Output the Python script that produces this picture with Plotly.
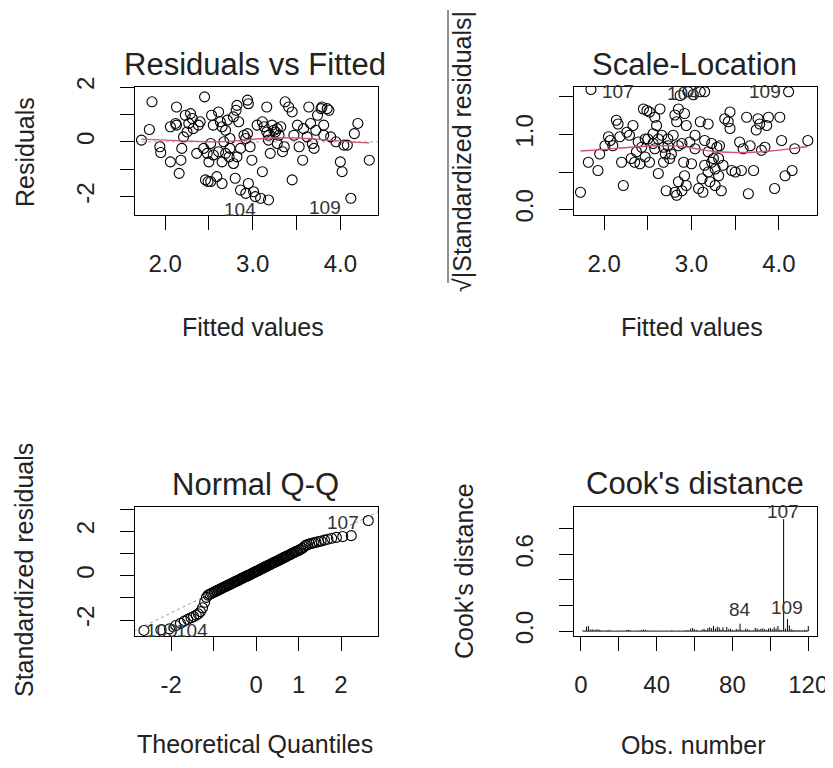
import plotly.graph_objects as go
import numpy as np

# ---------------- data ----------------
# Panel 1: Residuals vs Fitted
fitted_1 = [1.85, 1.82, 1.73, 1.94, 1.95, 2.06, 2.16, 2.18, 2.19, 2.21,
            2.13, 2.12, 2.13, 2.23, 2.29, 2.31, 2.32, 2.27, 2.40, 2.45,
            2.36, 2.44, 2.48, 2.50, 2.52, 2.46, 2.49, 2.52, 2.59, 2.65,
            2.53, 2.55, 2.61, 2.63, 2.65, 2.69, 2.71, 2.74, 2.73, 2.65,
            2.69, 2.78, 2.82, 2.81, 2.84, 2.82, 2.80, 2.86, 2.94, 2.95,
            2.90, 2.92, 2.94, 2.97, 2.95, 2.99, 3.01, 3.03, 3.09, 3.18,
            3.11, 3.05, 3.11, 3.13, 3.16, 3.16, 3.18, 3.20, 3.22, 3.24,
            3.26, 3.28, 3.30, 3.32, 3.28, 3.34, 3.36, 3.37, 3.41, 3.45,
            3.45, 3.47, 3.51, 3.53, 3.57, 3.58, 3.62, 3.64, 3.66, 3.68,
            3.70, 3.74, 3.78, 3.79, 3.81, 3.85, 3.87, 3.89, 3.95, 4.00,
            4.02, 4.04, 4.08, 4.12, 4.16, 4.20, 4.33, 3.81, 3.72, 2.74,
            2.78, 2.61, 2.55, 2.67, 2.86, 2.92, 2.38, 2.25, 2.06, 3.18]
resid_1 = [1.46, 0.45, 0.06, -0.18, -0.39, -0.73, -1.15, -0.67, -0.24, 0.18,
           1.27, 0.67, 0.61, 0.97, 1.03, 0.85, 0.48, 0.67, 0.73, 1.64,
           -0.42, -0.24, -0.42, -0.73, -0.06, -1.39, -1.45, -1.45, -1.27, -1.52,
           0.97, 0.61, 1.09, 0.73, 0.55, 0.42, 0.79, -0.24, -0.55, -0.73,
           -0.42, 0.91, 1.33, 1.15, 0.73, -0.55, -1.33, -1.76, 1.52, 1.39,
           0.24, 0.12, 0.30, -0.18, -1.52, -0.67, -1.82, -2.00, -2.06, -2.12,
           -1.09, 0.61, 0.73, 0.55, 1.27, 0.36, 0.06, -0.42, 0.61, 0.42,
           0.36, 0.48, 0.24, 0.55, -0.06, -0.36, -0.18, 1.46, 1.27, 1.09,
           -1.39, 0.24, 0.61, -0.18, -0.67, 0.48, 0.18, 1.27, 0.67, -0.06,
           -0.24, 0.97, 1.21, 1.27, 0.61, 1.21, 1.15, 0.18, 0.00, -0.73,
           -1.09, -0.12, -0.12, -2.06, 0.30, 0.67, -0.67, 0.24, 0.42, 0.12,
           -0.79, -0.36, -0.48, 0.00, -0.24, -1.88, 0.61, 0.36, 0.55, 0.24]
smooth_x_1 = [1.73, 2.00, 2.30, 2.60, 2.90, 3.20, 3.50, 3.80, 4.10, 4.33]
smooth_y_1 = [0.10, 0.06, 0.02, 0.00, 0.06, 0.14, 0.14, 0.08, 0.00, -0.04]
labels_1 = ["104", "109"]
label_x_1 = [2.86, 3.83]
label_y_1 = [-2.48, -2.40]

# Panel 2: Scale-Location
fitted_2 = [1.73, 1.85, 1.82, 1.93, 1.95, 2.05, 2.10, 2.14, 2.16, 2.18,
            2.20, 2.22, 2.26, 2.29, 2.31, 2.37, 2.39, 2.41, 2.45, 2.49,
            2.52, 2.50, 2.47, 2.52, 2.58, 2.60, 2.56, 2.58, 2.62, 2.64,
            2.66, 2.68, 2.70, 2.71, 2.73, 2.75, 2.79, 2.81, 2.83, 2.85,
            2.87, 3.10, 2.92, 2.94, 2.89, 2.91, 2.85, 2.81, 2.83, 2.89,
            2.92, 2.94, 2.98, 3.00, 3.04, 3.10, 3.12, 3.13, 3.15, 3.19,
            3.19, 3.19, 3.21, 3.23, 3.23, 3.25, 3.27, 3.27, 3.29, 3.31,
            3.32, 3.34, 3.38, 3.42, 3.44, 3.44, 3.46, 3.50, 3.55, 3.57,
            3.59, 3.63, 3.65, 3.67, 3.71, 3.74, 3.76, 3.78, 3.80, 3.84,
            3.86, 3.88, 3.95, 4.01, 4.03, 4.07, 4.11, 4.15, 4.18, 4.33,
            2.96, 3.02, 3.15, 2.35, 2.47, 2.62, 2.73, 2.77, 3.04, 2.68,
            2.43, 3.08, 2.85, 3.15, 3.31, 3.36, 2.01, 2.07, 2.33, 2.56]
sqrt_std_2 = [0.23, 1.60, 0.63, 0.52, 0.74, 0.97, 0.85, 1.19, 1.14, 0.97,
              0.63, 0.32, 1.03, 0.99, 0.68, 0.77, 0.90, 0.61, 1.34, 1.32,
              1.30, 0.94, 0.70, 0.63, 1.23, 1.12, 0.88, 0.81, 0.48, 1.34,
              0.99, 0.83, 0.74, 0.25, 0.85, 0.68, 0.99, 1.26, 1.17, 1.34,
              1.52, 1.57, 1.28, 1.12, 0.88, 0.63, 0.37, 0.23, 0.19, 0.25,
              0.45, 0.32, 0.90, 0.61, 0.81, 1.17, 0.41, 0.23, 0.92, 1.14,
              0.77, 0.50, 0.37, 0.88, 0.63, 0.68, 0.54, 0.32, 0.83, 0.45,
              0.85, 0.25, 1.21, 1.17, 1.30, 1.08, 0.52, 0.50, 0.90, 0.52,
              0.81, 1.23, 0.21, 0.85, 0.52, 1.06, 1.21, 1.14, 0.79, 0.83,
              1.12, 1.23, 0.28, 1.23, 0.92, 0.45, 1.57, 0.52, 0.81, 0.92,
              1.57, 1.53, 1.57, 0.63, 0.94, 0.94, 0.94, 0.74, 0.99, 0.63,
              0.83, 0.28, 0.85, 0.59, 0.68, 0.59, 0.85, 0.92, 1.12, 1.01]
smooth_x_2 = [1.73, 2.00, 2.30, 2.60, 2.90, 3.10, 3.30, 3.60, 3.90, 4.20, 4.33]
smooth_y_2 = [0.78, 0.80, 0.83, 0.85, 0.84, 0.80, 0.77, 0.76, 0.78, 0.82, 0.84]
labels_2 = ["107", "104", "109"]
label_x_2 = [2.16, 2.90, 3.84]
label_y_2 = [1.57, 1.55, 1.57]

# Panel 3: Normal Q-Q
theor_q = [-2.64, -2.24, -2.04, -1.89, -1.78, -1.69, -1.61, -1.53, -1.47, -1.41,
           -1.36, -1.31, -1.26, -1.21, -1.17, -1.13, -1.09, -1.05, -1.02, -0.98,
           -0.95, -0.92, -0.89, -0.86, -0.83, -0.80, -0.77, -0.74, -0.71, -0.69,
           -0.66, -0.64, -0.61, -0.59, -0.56, -0.54, -0.51, -0.49, -0.47, -0.44,
           -0.42, -0.40, -0.37, -0.35, -0.33, -0.31, -0.29, -0.26, -0.24, -0.22,
           -0.20, -0.18, -0.16, -0.14, -0.12, -0.09, -0.07, -0.05, -0.03, -0.01,
           0.01, 0.03, 0.05, 0.07, 0.09, 0.12, 0.14, 0.16, 0.18, 0.20,
           0.22, 0.24, 0.26, 0.29, 0.31, 0.33, 0.35, 0.37, 0.40, 0.42,
           0.44, 0.47, 0.49, 0.51, 0.54, 0.56, 0.59, 0.61, 0.64, 0.66,
           0.69, 0.71, 0.74, 0.77, 0.80, 0.83, 0.86, 0.89, 0.92, 0.95,
           0.98, 1.02, 1.05, 1.09, 1.13, 1.17, 1.21, 1.26, 1.31, 1.36,
           1.41, 1.47, 1.53, 1.61, 1.69, 1.78, 1.89, 2.04, 2.24, 2.64]
std_resid_q = [-2.47, -2.44, -2.40, -2.25, -2.15, -2.05, -1.97, -1.90, -1.84, -1.78,
               -1.72, -1.62, -1.45, -1.20, -0.98, -0.88, -0.84, -0.80, -0.77, -0.74,
               -0.70, -0.68, -0.65, -0.62, -0.59, -0.56, -0.53, -0.51, -0.48, -0.46,
               -0.43, -0.41, -0.39, -0.37, -0.34, -0.32, -0.29, -0.27, -0.25, -0.23,
               -0.21, -0.19, -0.16, -0.14, -0.12, -0.10, -0.08, -0.06, -0.04, -0.02,
               0.00, 0.01, 0.03, 0.05, 0.07, 0.10, 0.12, 0.14, 0.16, 0.18,
               0.19, 0.21, 0.23, 0.25, 0.27, 0.30, 0.32, 0.34, 0.36, 0.38,
               0.40, 0.42, 0.44, 0.46, 0.48, 0.50, 0.52, 0.54, 0.57, 0.59,
               0.61, 0.63, 0.65, 0.67, 0.70, 0.72, 0.75, 0.77, 0.80, 0.82,
               0.84, 0.87, 0.89, 0.92, 0.95, 0.98, 1.01, 1.04, 1.07, 1.10,
               1.12, 1.15, 1.19, 1.23, 1.30, 1.36, 1.40, 1.43, 1.45, 1.48,
               1.50, 1.53, 1.56, 1.60, 1.64, 1.68, 1.72, 1.76, 1.80, 2.48]
labels_3 = ["107", "109", "104"]
label_x_3 = [2.05, -2.22, -1.50]
label_y_3 = [2.40, -2.45, -2.45]

# Panel 4: Cook's distance
obs_number = list(range(1, 121))
cooks_d = [0.005, 0.003, 0.035, 0.040, 0.012, 0.015, 0.010, 0.012, 0.014, 0.010,
           0.004, 0.002, 0.003, 0.006, 0.010, 0.003, 0.002, 0.001, 0.002, 0.003,
           0.001, 0.002, 0.001, 0.009, 0.011, 0.008, 0.002, 0.001, 0.003, 0.002,
           0.004, 0.010, 0.012, 0.011, 0.004, 0.002, 0.001, 0.003, 0.002, 0.001,
           0.002, 0.001, 0.002, 0.001, 0.003, 0.002, 0.001, 0.008, 0.002, 0.001,
           0.002, 0.003, 0.001, 0.002, 0.004, 0.008, 0.006, 0.020, 0.025, 0.015,
           0.008, 0.003, 0.002, 0.012, 0.018, 0.010, 0.025, 0.030, 0.022, 0.040,
           0.020, 0.035, 0.028, 0.012, 0.030, 0.008, 0.033, 0.015, 0.020, 0.010,
           0.005, 0.018, 0.012, 0.058, 0.010, 0.004, 0.020, 0.015, 0.008, 0.004,
           0.006, 0.025, 0.020, 0.012, 0.018, 0.022, 0.015, 0.010, 0.020, 0.025,
           0.015, 0.030, 0.020, 0.040, 0.012, 0.010, 0.875, 0.020, 0.095, 0.045,
           0.015, 0.010, 0.006, 0.004, 0.008, 0.005, 0.003, 0.010, 0.008, 0.040]
labels_4 = ["107", "84", "109"]
label_x_4 = [106.5, 84.0, 108.6]
label_y_4 = [0.875, 0.168, 0.187]
label_shift_4 = [8, 0, 0]

titles = ["Residuals vs Fitted", "Scale-Location", "Normal Q-Q", "Cook's distance"]
x_titles = ["Fitted values", "Fitted values", "Theoretical Quantiles", "Obs. number"]
y_titles = ["Residuals", "√|Standardized residuals|", "Standardized residuals", "Cook's distance"]

# ---------------- layout helpers ----------------
# The page body has an 8px margin; map window pixels onto the figure.
OFF = 8
W, H = 833 - OFF, 768 - 2 * OFF
FONT = "Liberation Sans, Arial, sans-serif"
RED = "#D0566C"

def px(x):
    return (x - OFF) / W

def py(y):
    return 1 - (y - OFF) / H

boxes = {  # window-pixel boxes x0, x1, y0(top), y1(bottom)
    1: (135, 378, 87, 215),
    2: (574, 817, 87, 215),
    3: (135, 378, 507, 636),
    4: (574, 817, 507, 636),
}

fig = go.Figure()

marker = dict(symbol="circle-open", size=10, color="black", line=dict(width=1.1, color="black"))

# Panel 1
fig.add_trace(go.Scatter(x=[1.6, 4.5], y=[0, 0], mode="lines",
                         line=dict(color="#aaaaaa", width=1, dash="dot"),
                         xaxis="x", yaxis="y", hoverinfo="skip"))
fig.add_trace(go.Scatter(x=fitted_1, y=resid_1, mode="markers", marker=marker,
                         xaxis="x", yaxis="y"))
fig.add_trace(go.Scatter(x=smooth_x_1, y=smooth_y_1, mode="lines", line_shape="spline",
                         line=dict(color=RED, width=1.3), xaxis="x", yaxis="y"))

# Panel 2
fig.add_trace(go.Scatter(x=fitted_2, y=sqrt_std_2, mode="markers", marker=marker,
                         xaxis="x2", yaxis="y2"))
fig.add_trace(go.Scatter(x=smooth_x_2, y=smooth_y_2, mode="lines", line_shape="spline",
                         line=dict(color=RED, width=1.3), xaxis="x2", yaxis="y2"))

# Panel 3
sa = np.array(std_resid_q)
s25, s75 = np.percentile(sa, [25, 75])
q25, q75 = -0.6745, 0.6745
slope = (s75 - s25) / (q75 - q25)
icpt = s25 - slope * q25
qx = [-3.0, 3.0]
fig.add_trace(go.Scatter(x=qx, y=[icpt + slope * v for v in qx], mode="lines",
                         line=dict(color="#999999", width=1, dash="dot"),
                         xaxis="x3", yaxis="y3", hoverinfo="skip"))
fig.add_trace(go.Scatter(x=theor_q, y=std_resid_q, mode="markers", marker=marker,
                         xaxis="x3", yaxis="y3"))

# Panel 4: vertical lines (type = "h")
seg_x, seg_y = [], []
for o, c in zip(obs_number, cooks_d):
    seg_x += [o, o, None]
    seg_y += [0, c, None]
fig.add_trace(go.Scatter(x=seg_x, y=seg_y, mode="lines", line=dict(color="black", width=1),
                         xaxis="x4", yaxis="y4"))
fig.add_trace(go.Scatter(x=[obs_number[0], obs_number[-1]], y=[0, 0], mode="lines",
                         line=dict(color="#222222", width=1), xaxis="x4", yaxis="y4",
                         hoverinfo="skip"))

axis_common = dict(showline=True, linecolor="black", linewidth=1, mirror=True,
                   ticks="outside", ticklen=14, tickwidth=1, tickcolor="black",
                   showgrid=False, zeroline=False, automargin=False,
                   ticklabeloverflow="allow",
                   tickfont=dict(family=FONT, size=24, color="#222222"))

def xax(i, rng, tv, tt):
    x0, x1, y0, y1 = boxes[i]
    d = dict(axis_common)
    d.update(domain=[px(x0), px(x1)], range=rng, tickmode="array", tickvals=tv,
             ticktext=tt, anchor="y" if i == 1 else f"y{i}", ticklabelstandoff=13)
    return d

def yax(i, rng, tv, tt):
    x0, x1, y0, y1 = boxes[i]
    d = dict(axis_common)
    d.update(domain=[py(y1), py(y0)], range=rng, tickmode="array", tickvals=tv,
             ticktext=tt, anchor="x" if i == 1 else f"x{i}", tickangle=-90,
             ticklabelstandoff=16)
    return d

layout = dict(
    width=W, height=H, autosize=False, showlegend=False,
    margin=dict(l=0, r=0, t=0, b=0),
    paper_bgcolor="white", plot_bgcolor="white",
    font=dict(family=FONT, color="#222222"),
    xaxis=xax(1, [1.656, 4.43], [2.0, 2.5, 3.0, 3.5, 4.0], ["2.0", "", "3.0", "", "4.0"]),
    yaxis=yax(1, [-2.67, 2.0], [-2, -1, 0, 1, 2], ["-2", "", "0", "", "2"]),
    xaxis2=xax(2, [1.656, 4.435], [2.0, 2.5, 3.0, 3.5, 4.0], ["2.0", "", "3.0", "", "4.0"]),
    yaxis2=yax(2, [-0.073, 1.633], [0.0, 0.5, 1.0, 1.5], ["0.0", "", "1.0", ""]),
    xaxis3=xax(3, [-2.85, 2.87], [-2, -1, 0, 1, 2], ["-2", "", "0", "1", "2"]),
    yaxis3=yax(3, [-2.72, 3.09], [-2, -1, 0, 1, 2, 3], ["-2", "", "0", "", "2", ""]),
    xaxis4=xax(4, [-3.6, 124.6], [0, 20, 40, 60, 80, 100, 120], ["0", "", "40", "", "80", "", "120"]),
    yaxis4=yax(4, [-0.038, 0.97], [0.0, 0.2, 0.4, 0.6, 0.8], ["0.0", "", "", "0.6", ""]),
)

ann = []
title_pos = {1: (255, 64), 2: (694, 64), 3: (255, 484), 4: (695, 483)}
xt_pos = {1: (253, 327), 2: (692, 327), 3: (255, 744), 4: (693, 745)}
yt_pos = {1: (25, 152), 2: (462, 152), 3: (24, 570), 4: (464, 571)}
for i in range(1, 5):
    tx, ty = title_pos[i]
    ann.append(dict(text=titles[i - 1], x=px(tx), y=py(ty), xref="paper", yref="paper",
                    showarrow=False, xanchor="center", yanchor="middle",
                    font=dict(family=FONT, size=31, color="#222222")))
    tx, ty = xt_pos[i]
    ann.append(dict(text=x_titles[i - 1], x=px(tx), y=py(ty), xref="paper", yref="paper",
                    showarrow=False, xanchor="center", yanchor="middle",
                    font=dict(family=FONT, size=25, color="#222222")))
    tx, ty = yt_pos[i]
    ann.append(dict(text=y_titles[i - 1], x=px(tx), y=py(ty), xref="paper", yref="paper",
                    showarrow=False, xanchor="center", yanchor="middle", textangle=-90,
                    font=dict(family=FONT, size=25, color="#222222")))

lab_font = dict(family=FONT, size=19, color="#333333")
for (labs, lx, ly, xr, yr, sh) in [(labels_1, label_x_1, label_y_1, "x", "y", [0, 0]),
                                   (labels_2, label_x_2, label_y_2, "x2", "y2", [0, 0, 0]),
                                   (labels_3, label_x_3, label_y_3, "x3", "y3", [0, 0, 0]),
                                   (labels_4, label_x_4, label_y_4, "x4", "y4", label_shift_4)]:
    for t, a, b, s in zip(labs, lx, ly, sh):
        ann.append(dict(text=t, x=a, y=b, xref=xr, yref=yr, showarrow=False,
                        xanchor="center", yanchor="middle", yshift=s, font=lab_font))

layout["annotations"] = ann
layout["shapes"] = [dict(type="line", xref="paper", yref="paper",
                         x0=px(448), x1=px(448), y0=py(10), y1=py(283),
                         line=dict(color="#222222", width=1))]

fig.update_layout(**layout)
fig.write_html("out.html")
